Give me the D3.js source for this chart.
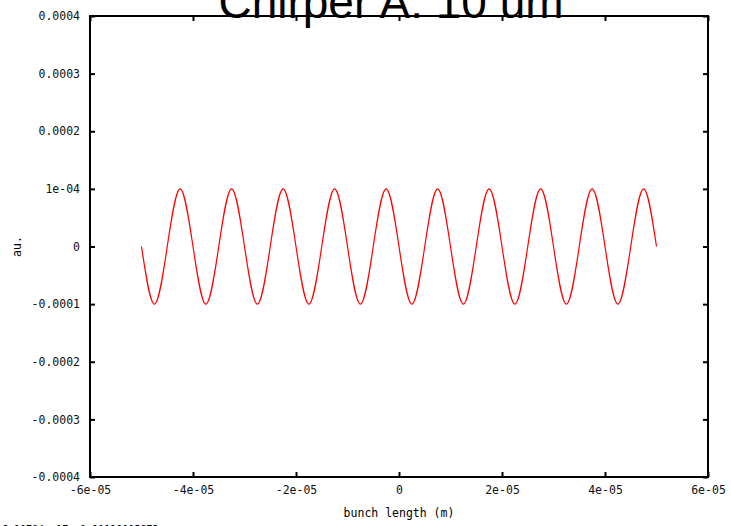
<!DOCTYPE html>
<html lang="en">
<head>
<meta charset="UTF-8"/>
<title>Chirper A: 10 um</title>
<script src="https://cdn.jsdelivr.net/npm/d3@7"></script>
<style>
  body { margin: 0; background: #fff; overflow: hidden; }
  .tick text { font-family: "DejaVu Sans Mono", monospace; font-size: 11.5px; fill: #111; }
</style>
</head>
<body>
<script>
var w = 731;
var h = 526;

// bunch position (m), read at zero crossings / extrema
var positions = [
  -5e-5, -4.75e-5, -4.5e-5, -4.25e-5, -4e-5, -3.75e-5, -3.5e-5, -3.25e-5, -3e-5, -2.75e-5,
  -2.5e-5, -2.25e-5, -2e-5, -1.75e-5, -1.5e-5, -1.25e-5, -1e-5, -0.75e-5, -0.5e-5, -0.25e-5,
  0, 0.25e-5, 0.5e-5, 0.75e-5, 1e-5, 1.25e-5, 1.5e-5, 1.75e-5, 2e-5, 2.25e-5,
  2.5e-5, 2.75e-5, 3e-5, 3.25e-5, 3.5e-5, 3.75e-5, 4e-5, 4.25e-5, 4.5e-5, 4.75e-5, 5e-5
];
// amplitude (au.)
var amplitude = [
  0, -1e-4, 0, 1e-4, 0, -1e-4, 0, 1e-4, 0, -1e-4,
  0, 1e-4, 0, -1e-4, 0, 1e-4, 0, -1e-4, 0, 1e-4,
  0, -1e-4, 0, 1e-4, 0, -1e-4, 0, 1e-4, 0, -1e-4,
  0, 1e-4, 0, -1e-4, 0, 1e-4, 0, -1e-4, 0, 1e-4, 0
];
var xTicks = [-6e-5, -4e-5, -2e-5, 0, 2e-5, 4e-5, 6e-5];
var xTickLabels = ["-6e-05", "-4e-05", "-2e-05", "0", "2e-05", "4e-05", "6e-05"];
var yTicks = [-4e-4, -3e-4, -2e-4, -1e-4, 0, 1e-4, 2e-4, 3e-4, 4e-4];
var yTickLabels = ["-0.0004", "-0.0003", "-0.0002", "-0.0001", "0", "1e-04", "0.0002", "0.0003", "0.0004"];

var mLeft = 90, mRight = 708, mTop = 16, mBottom = 477;

var xScale = d3.scaleLinear().domain([-6e-5, 6e-5]).range([mLeft, mRight]);
var yScale = d3.scaleLinear().domain([-4e-4, 4e-4]).range([mBottom, mTop]);

var svg = d3.select("body").append("svg")
  .attr("width", w)
  .attr("height", h);

// Axes with inward ticks
var xAxis = svg.append("g")
  .attr("transform", "translate(0," + mBottom + ")")
  .call(d3.axisBottom(xScale).tickValues(xTicks)
    .tickFormat(function(d, i) { return xTickLabels[i]; })
    .tickSize(-5).tickSizeOuter(0).tickPadding(9));
xAxis.select(".domain").remove();
xAxis.selectAll("line").attr("stroke-width", 2);

var xTop = svg.append("g")
  .attr("transform", "translate(0," + mTop + ")")
  .call(d3.axisTop(xScale).tickValues(xTicks).tickFormat("").tickSize(-5).tickSizeOuter(0));
xTop.select(".domain").remove();
xTop.selectAll("line").attr("stroke-width", 2);

var yAxis = svg.append("g")
  .attr("transform", "translate(" + mLeft + ",0)")
  .call(d3.axisLeft(yScale).tickValues(yTicks)
    .tickFormat(function(d, i) { return yTickLabels[i]; })
    .tickSize(-5).tickSizeOuter(0).tickPadding(10));
yAxis.select(".domain").remove();
yAxis.selectAll("line").attr("stroke-width", 2);

var yRight = svg.append("g")
  .attr("transform", "translate(" + mRight + ",0)")
  .call(d3.axisRight(yScale).tickValues(yTicks).tickFormat("").tickSize(-5).tickSizeOuter(0));
yRight.select(".domain").remove();
yRight.selectAll("line").attr("stroke-width", 2);

// frame
svg.append("rect")
  .attr("x", mLeft).attr("y", mTop)
  .attr("width", mRight - mLeft).attr("height", mBottom - mTop)
  .attr("fill", "none").attr("stroke", "#000").attr("stroke-width", 2);

// curve
var line = d3.line()
  .x(function(d, i) { return xScale(positions[i]); })
  .y(function(d) { return yScale(d); })
  .curve(d3.curveNatural);

svg.append("path")
  .datum(amplitude)
  .attr("d", line)
  .attr("fill", "none")
  .attr("stroke", "#ff0000")
  .attr("stroke-width", 1.2);

// labels
svg.append("text")
  .attr("x", 391).attr("y", 18)
  .attr("text-anchor", "middle")
  .attr("font-family", "Liberation Sans, Arial, sans-serif")
  .attr("font-size", "46px")
  .text("Chirper A: 10 um");

svg.append("text")
  .attr("x", xScale(0)).attr("y", 517)
  .attr("text-anchor", "middle")
  .attr("font-family", "DejaVu Sans Mono, monospace")
  .attr("font-size", "11.5px")
  .text("bunch length (m)");

svg.append("text")
  .attr("transform", "translate(21," + yScale(0) + ") rotate(-90)")
  .attr("text-anchor", "middle")
  .attr("font-family", "DejaVu Sans Mono, monospace")
  .attr("font-size", "11.5px")
  .text("au.");

svg.append("text")
  .attr("x", 2).attr("y", 533)
  .attr("font-family", "DejaVu Sans Mono, monospace")
  .attr("font-size", "10px")
  .text("6.10784e-17,  1.11111115873");
</script>
</body>
</html>
